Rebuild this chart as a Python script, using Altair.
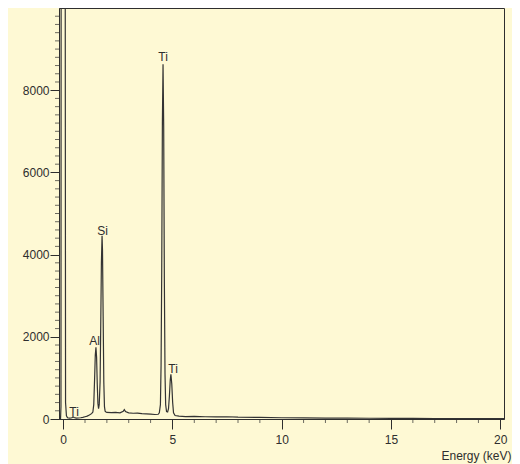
import altair as alt
import pandas as pd

# Spectrum (energy in keV, counts)
energy = [-0.19, -0.12, -0.10, -0.09, 0.00, 0.09, 0.11, 0.15, 0.20, 0.30, 0.40, 0.45, 0.50, 0.60, 0.70,
          0.80, 0.90, 1.00, 1.10, 1.20, 1.30, 1.36, 1.40, 1.44, 1.47, 1.50, 1.53, 1.56, 1.59, 1.62,
          1.65, 1.69, 1.72, 1.75, 1.78, 1.80, 1.83, 1.86, 1.89, 1.92, 1.96, 2.00, 2.20, 2.40, 2.60,
          2.75, 2.80, 2.85, 3.00, 3.20, 3.40, 3.60, 3.80, 4.00, 4.20, 4.35, 4.40, 4.45, 4.48, 4.51,
          4.54, 4.57, 4.60, 4.63, 4.66, 4.69, 4.73, 4.78, 4.82, 4.86, 4.90, 4.93, 4.97, 5.01, 5.05,
          5.12, 5.30, 5.60, 6.00, 6.50, 7.00, 7.50, 8.00, 9.00, 10.0, 11.0, 12.0, 13.0, 14.0, 15.0,
          16.0, 17.0, 18.0, 19.0, 20.0, 20.17]
counts = [0, 0, 300, 14000, 40000, 14000, 400, 80, 30, 20, 30, 55, 35, 20, 25,
          30, 40, 55, 70, 95, 130, 170, 350, 1000, 1550, 1745, 1500, 850, 380, 250,
          350, 900, 2300, 3800, 4460, 4100, 2500, 900, 300, 190, 170, 160, 155, 160, 150,
          190, 230, 180, 150, 140, 145, 130, 125, 120, 110, 115, 150, 350, 1300, 3600,
          7200, 8630, 7100, 3400, 1100, 350, 180, 170, 250, 550, 950, 1090, 850, 400, 150,
          85, 70, 60, 65, 55, 50, 55, 45, 38, 30, 25, 22, 20, 18, 15,
          14, 12, 10, 9, 8, 8]

# Peak labels
label_text = ["Ti", "Al", "Si", "Ti", "Ti"]
label_x = [0.50, 1.44, 1.80, 4.57, 5.03]
label_y = [75, 1790, 4480, 8700, 1115]

# Axis ticks
x_major = [0, 5, 10, 15, 20]
x_minor = [1, 2, 3, 4, 6, 7, 8, 9, 11, 12, 13, 14, 16, 17, 18, 19]
y_major = [0, 2000, 4000, 6000, 8000]
y_minor = [v for v in range(200, 10000, 200) if v % 2000 != 0]

bg = "#FEF9D4"
ink = "#2e2e2e"
font = "Liberation Sans"

W, H = 445, 411
xs = alt.Scale(domain=[-0.19, 20.17], nice=False, zero=False)
ys = alt.Scale(domain=[0, 10000], nice=False)

spec = pd.DataFrame({"e": energy, "c": counts})
labels = pd.DataFrame({"t": label_text, "e": label_x, "c": label_y})
xmin = pd.DataFrame({"e": x_minor})
ymin = pd.DataFrame({"c": y_minor})

line = alt.Chart(spec).mark_line(clip=True, color="#333333", strokeWidth=1.2).encode(
    x=alt.X("e:Q", scale=xs,
            axis=alt.Axis(values=x_major, format="d", tickSize=10, labelPadding=5,
                          labelFontSize=12, labelFont=font, labelColor=ink,
                          domainColor=ink, tickColor=ink, grid=False,
                          title="Energy (keV)", titleFont=font, titleFontSize=12,
                          titleFontWeight="normal", titleColor=ink,
                          titleAnchor="end", titleAlign="right", titleBaseline="top",
                          titleX=W + 7, titleY=31)),
    y=alt.Y("c:Q", scale=ys,
            axis=alt.Axis(values=y_major, format="d", tickSize=9, labelPadding=1,
                          labelFontSize=12, labelFont=font, labelColor=ink,
                          domainColor=ink, tickColor=ink, grid=False, title=None)),
)

text = alt.Chart(labels).mark_text(font=font, fontSize=12, color=ink,
                                   baseline="alphabetic", align="center").encode(
    x=alt.X("e:Q", scale=xs), y=alt.Y("c:Q", scale=ys), text="t:N")

xticks = alt.Chart(xmin).mark_tick(orient="vertical", size=4, thickness=1, color=ink).encode(
    x=alt.X("e:Q", scale=xs), y=alt.value(H + 2))

yticks = alt.Chart(ymin).mark_tick(orient="horizontal", size=4, thickness=1, color=ink).encode(
    y=alt.Y("c:Q", scale=ys), x=alt.value(-2))

chart = alt.layer(line, text, xticks, yticks).properties(
    width=W, height=H,
    padding={"left": 51, "top": 0, "right": 8, "bottom": 45},
    autosize=alt.AutoSizeParams(type="none"),
    background=bg,
).configure_view(stroke=ink, strokeWidth=1, fill=bg)

chart.save("out.html", embed_options={"renderer": "svg", "actions": False})
